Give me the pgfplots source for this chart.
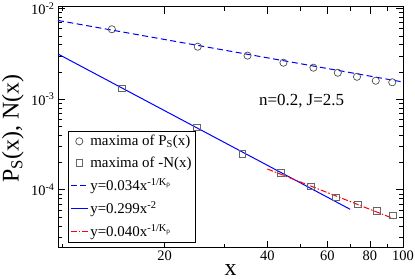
\documentclass[border=0pt]{standalone}
\usepackage{fontspec}
\setmainfont{Liberation Serif}
\usepackage{pgfplots}
\pgfplotsset{compat=1.18}
\begin{document}
\begin{tikzpicture}
\path[use as bounding box] (-58bp,-31bp) rectangle (357bp,247.7bp);
\begin{axis}[
  at={(0,0)}, anchor=south west,
  scale only axis, width=345bp, height=241bp,
  clip=false,
  xmode=log, ymode=log,
  xmin=9.73, xmax=100, ymin=2.3e-5, ymax=1.05e-2,
  xtick={20,40,60,80,100}, xticklabels={20,40,60,80,100},
  minor xtick={10,30,50,70,90},
  ytick={1e-4,1e-3,1e-2},
  yticklabels={10\textsuperscript{-4},10\textsuperscript{-3},10\textsuperscript{-2}},
  minor ytick={3e-5,4e-5,5e-5,6e-5,7e-5,8e-5,9e-5,2e-4,3e-4,4e-4,5e-4,6e-4,7e-4,8e-4,9e-4,2e-3,3e-3,4e-3,5e-3,6e-3,7e-3,8e-3,9e-3},
  tick align=inside,
  major tick length=7bp, minor tick length=4bp,
  axis line style={line width=0.8bp},
  every tick/.style={line width=0.8bp, black},
  ticklabel style={font=\fontsize{14.5}{14.5}\selectfont},
  /pgf/number format/assume math mode=true,
  legend style={at={(axis description cs:0.029,0.022)}, anchor=south west,
    font=\fontsize{15}{15}\selectfont, draw=black, line width=0.6bp,
    row sep=5.5bp, inner sep=2bp},
  legend cell align=left,
]
\addplot[only marks, mark=o, mark size=3.6bp, draw=black!70, line width=0.7bp] coordinates {
(14,5.92e-3) (25,3.80e-3) (35,3.03e-3) (44.6,2.53e-3) (54.6,2.23e-3)
(64.4,1.96e-3) (73.3,1.77e-3) (83.2,1.60e-3) (93,1.54e-3)};
\addlegendentry{maxima of P\textsubscript{S}(x)}
\addplot[only marks, mark=square, mark size=3.3bp, draw=black!60, line width=0.7bp] coordinates {
(15,1.32e-3) (24.9,4.91e-4) (33.8,2.48e-4) (43.9,1.54e-4) (53.7,1.09e-4)
(63.5,8.3e-5) (73.6,6.9e-5) (83.7,5.87e-5) (93.4,5.26e-5)};
\addlegendentry{maxima of -N(x)}
\addplot[color=blue, line width=1bp, dash pattern=on 6bp off 3.5bp] coordinates {
(9.73,7.4e-3) (100,1.55e-3)};
\addlegendentry{y=0.034x\textsuperscript{-1/K\textsubscript{ρ}}}
\addplot[color=blue, line width=1bp] coordinates {
(9.73,3.158e-3) (70,6.10e-5)};
\addlegendentry{y=0.299x\textsuperscript{-2}}
\addplot[color=red, line width=1bp, dash pattern=on 6bp off 2bp on 1.5bp off 2bp] coordinates {
(40,1.70e-4) (95,4.73e-5)};
\addlegendentry{y=0.040x\textsuperscript{-1/K\textsubscript{ρ}}}
\node[font=\fontsize{17}{17}\selectfont] at (axis description cs:0.706,0.61) {n=0.2, J=2.5};
\node[rotate=90, font=\fontsize{24}{24}\selectfont] at (axis description cs:-0.131,0.494) {P\textsubscript{S}(x), N(x)};
\node[font=\fontsize{24}{24}\selectfont] at (axis description cs:0.5,-0.092) {x};
\end{axis}
\end{tikzpicture}
\end{document}
